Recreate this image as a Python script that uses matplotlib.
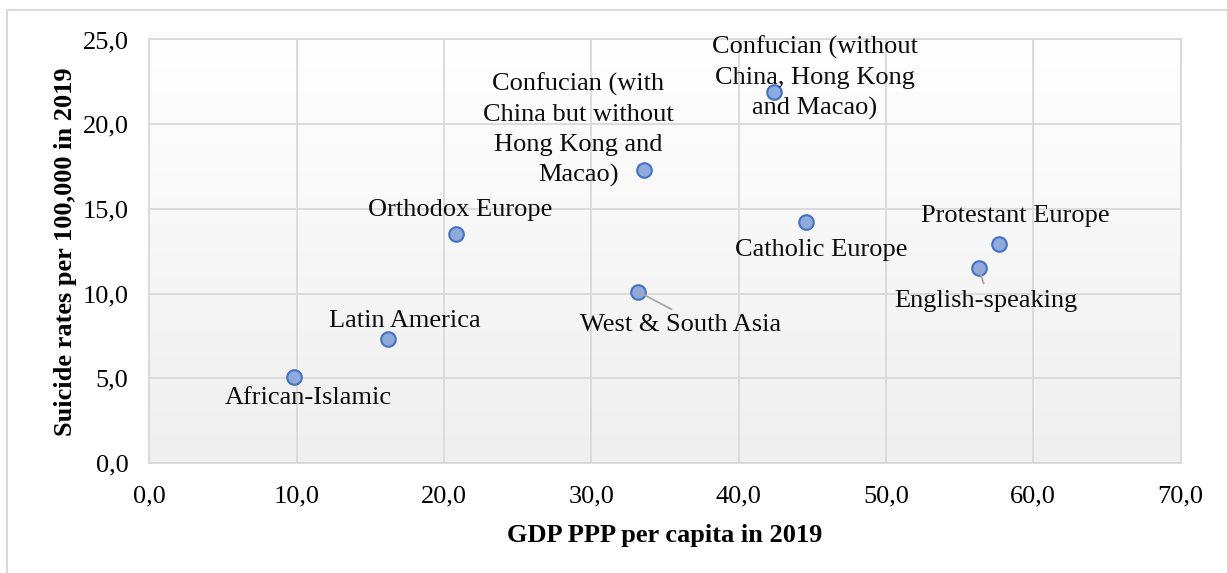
import matplotlib
matplotlib.use("Agg")
import matplotlib.pyplot as plt
import numpy as np
from matplotlib.ticker import FuncFormatter, MultipleLocator

plt.rcParams['font.family'] = ['Liberation Serif', 'DejaVu Serif']

# Cultural zones: GDP PPP per capita (thousands) vs suicide rate per 100,000
regions = [
    "African-Islamic",
    "Latin America",
    "Orthodox Europe",
    "West & South Asia",
    "Confucian (with\nChina but without\nHong Kong and\nMacao)",
    "Confucian (without\nChina, Hong Kong\nand Macao)",
    "Catholic Europe",
    "Protestant Europe",
    "English-speaking",
]
gdp = [9.8, 16.2, 20.8, 33.2, 33.6, 42.4, 44.6, 57.7, 56.3]
suicide = [5.1, 7.3, 13.5, 10.1, 17.3, 21.9, 14.2, 12.9, 11.5]

# label offsets from each marker, in pixels; leader line flag
label_offsets = [(15, -21), (17, 18), (4, 24), (42, -33), (-66, 40),
                 (41, 14), (15, -28), (16, 28), (7, -33)]
leaders = [False, False, False, True, False, False, False, False, True]

W, H, DPI = 1227, 573, 100
fig = plt.figure(figsize=(W / DPI, H / DPI), dpi=DPI)
fig.patch.set_facecolor("white")

# outer chart border
fig.add_artist(plt.Line2D([7 / W, 7 / W], [0, 1 - 10 / H], color="#d9d9d9", lw=1.5))
fig.add_artist(plt.Line2D([7 / W, 1], [1 - 10 / H, 1 - 10 / H], color="#d9d9d9", lw=1.5))

left, right, top, bottom = 149.3, 1180.6, 39.5, 463
ax = fig.add_axes([left / W, 1 - bottom / H, (right - left) / W, (bottom - top) / H])

# vertical gradient in the plot area: white at the top, light grey at the bottom
grad = np.linspace(0, 1, 256).reshape(-1, 1)
cmap = matplotlib.colors.LinearSegmentedColormap.from_list("bg", ["#ffffff", "#efefef"])
ax.imshow(grad, aspect="auto", cmap=cmap, extent=[0, 1, 0, 1], origin="upper",
          transform=ax.transAxes, zorder=0)

ax.set_xlim(0, 70)
ax.set_ylim(0, 25)
ax.xaxis.set_major_locator(MultipleLocator(10))
ax.yaxis.set_major_locator(MultipleLocator(5))
fmt = FuncFormatter(lambda v, p: f"{v:.1f}".replace(".", ","))
ax.xaxis.set_major_formatter(fmt)
ax.yaxis.set_major_formatter(fmt)
ax.grid(True, color="#d9d9d9", lw=1.3, zorder=1)
ax.set_axisbelow(True)
ax.tick_params(length=0, labelsize=19)
ax.tick_params(axis="y", pad=15)
ax.tick_params(axis="x", pad=16)
for s in ax.spines.values():
    s.set_color("#d9d9d9")
    s.set_linewidth(1.3)

ax.scatter(gdp, suicide, s=110, facecolor="#8faadc", edgecolor="#4472c4",
           linewidth=1.5, zorder=3)

for name, x, y, (dx, dy), lead in zip(regions, gdp, suicide, label_offsets, leaders):
    kw = {}
    if lead:
        kw["arrowprops"] = dict(arrowstyle="-", color="#a6a6a6", lw=1.3,
                                shrinkA=3, shrinkB=0, relpos=(0.5, 1.0))
    ax.annotate(name, (x, y), xytext=(dx, dy), textcoords="offset pixels",
                ha="center", va="center", fontsize=19, linespacing=1.47,
                color="#0d0d0d", zorder=4, **kw)

ax.set_xlabel("GDP PPP per capita in 2019", fontsize=19, fontweight="bold", labelpad=12)
ax.set_ylabel("Suicide rates per 100,000 in 2019", fontsize=19, fontweight="bold", labelpad=4)

fig.savefig("out.png", dpi=DPI)
